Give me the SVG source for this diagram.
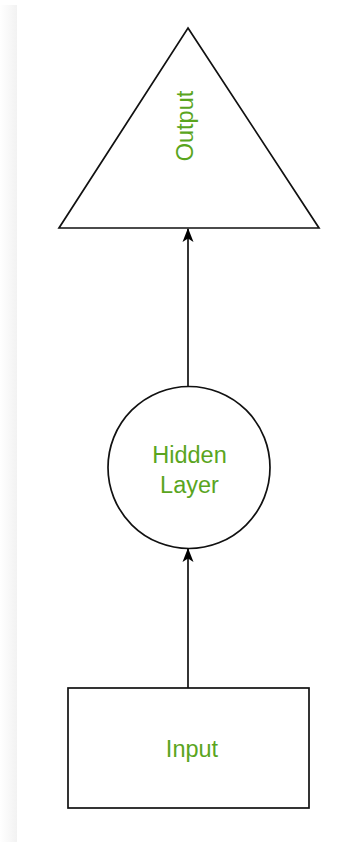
<svg xmlns="http://www.w3.org/2000/svg" width="352" height="842" viewBox="0 0 352 842">
  <defs>
    <linearGradient id="edge" x1="0" y1="0" x2="1" y2="0">
      <stop offset="0" stop-color="#ffffff"/>
      <stop offset="1" stop-color="#f2f2f2"/>
    </linearGradient>
    <marker id="arrow" viewBox="0 0 14 12" refX="13" refY="6" markerWidth="14" markerHeight="12" markerUnits="userSpaceOnUse" orient="auto">
      <path d="M0,0.5 L14,6 L0,11.5 L3.5,6 Z" fill="#000"/>
    </marker>
    <style>
      .shape { fill: #ffffff; stroke: #111111; stroke-width: 1.7; }
      .label { font-family: "Liberation Sans", Arial, sans-serif; font-size: 23.5px; fill: #5aa51e; text-anchor: middle; }
      .conn { stroke: #111111; stroke-width: 1.7; fill: none; marker-end: url(#arrow); }
    </style>
  </defs>
  <rect x="0" y="0" width="352" height="842" fill="#ffffff"/>
  <rect x="0" y="5" width="17" height="837" fill="url(#edge)"/>

  <g id="output">
    <polygon class="shape" points="188,28 319,228 59,228"/>
    <text class="label" transform="translate(193,126) rotate(-90)" x="0" y="0">Output</text>
  </g>

  <g id="hidden">
    <circle class="shape" cx="189" cy="467.5" r="81"/>
    <text class="label" x="189.5" y="463">Hidden</text>
    <text class="label" x="189.5" y="493">Layer</text>
  </g>

  <g id="input">
    <rect class="shape" x="68" y="688" width="241" height="120"/>
    <text class="label" x="192" y="757">Input</text>
  </g>

  <g id="connectors">
    <line class="conn" x1="188" y1="688" x2="188" y2="549"/>
    <line class="conn" x1="188" y1="386" x2="188" y2="229"/>
  </g>
</svg>
